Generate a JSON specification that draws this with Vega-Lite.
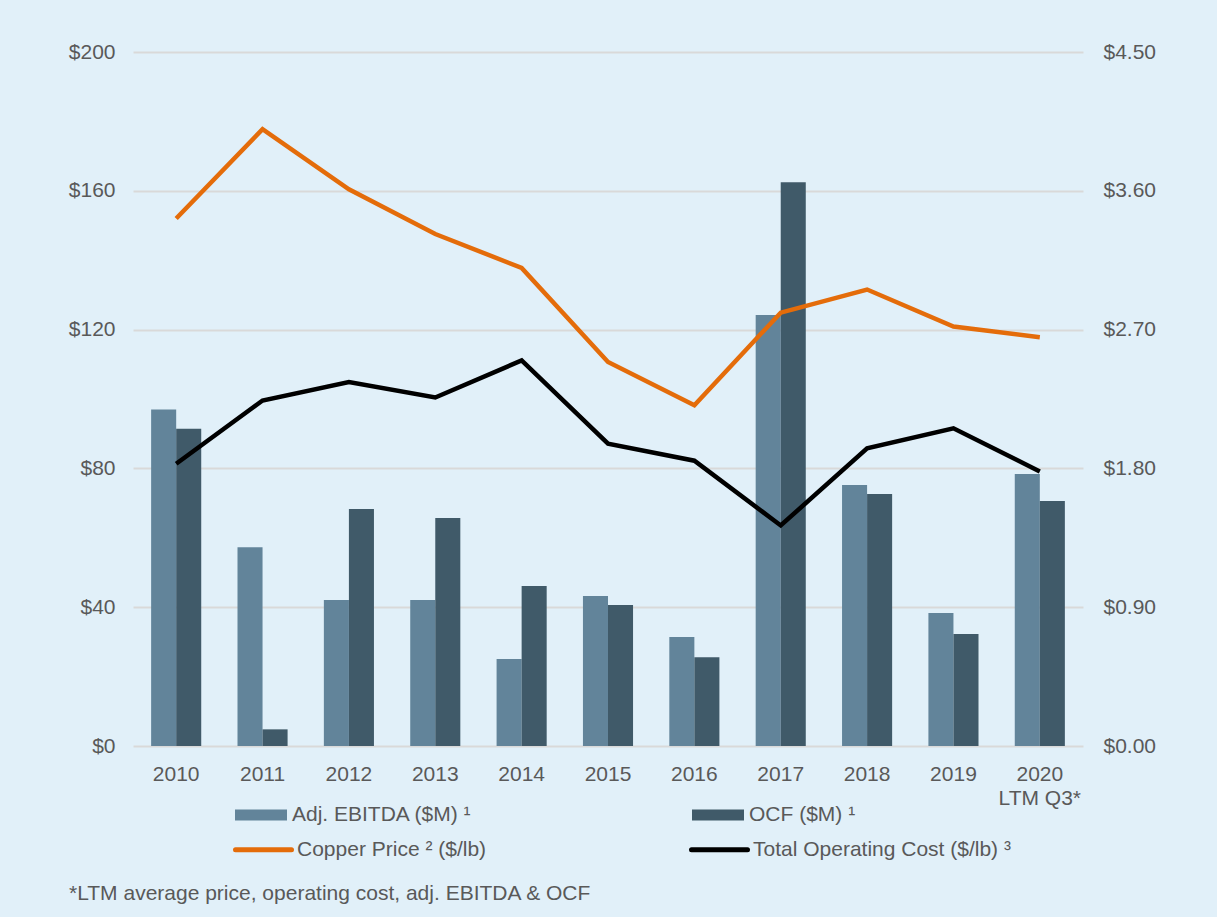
{
  "$schema": "https://vega.github.io/schema/vega-lite/v6.json",
  "width": 950,
  "height": 694,
  "autosize": {"type": "none"},
  "padding": {"left": 133, "top": 52, "right": 134, "bottom": 171},
  "background": "#E1F0F9",
  "config": {
    "view": {"stroke": null},
    "font": "Liberation Sans",
    "axis": {"labelFont": "Liberation Sans", "labelColor": "#595959", "labelFontSize": 21, "ticks": false, "domain": false, "title": null},
    "legend": {"labelFont": "Liberation Sans", "labelColor": "#595959", "labelFontSize": 21, "padding": 0, "labelLimit": 500}
  },
  "title": {
    "text": "*LTM average price, operating cost, adj. EBITDA & OCF",
    "orient": "bottom",
    "anchor": "start",
    "frame": "group",
    "dx": -64,
    "offset": 23,
    "fontSize": 21,
    "fontWeight": "normal",
    "font": "Liberation Sans",
    "color": "#595959"
  },
  "data": {
    "values": [
      {"year": "2010", "series": "Adj. EBITDA ($M) ¹", "kind": "bar", "value": 97.0},
      {"year": "2011", "series": "Adj. EBITDA ($M) ¹", "kind": "bar", "value": 57.3},
      {"year": "2012", "series": "Adj. EBITDA ($M) ¹", "kind": "bar", "value": 42.1},
      {"year": "2013", "series": "Adj. EBITDA ($M) ¹", "kind": "bar", "value": 42.1},
      {"year": "2014", "series": "Adj. EBITDA ($M) ¹", "kind": "bar", "value": 25.1},
      {"year": "2015", "series": "Adj. EBITDA ($M) ¹", "kind": "bar", "value": 43.2},
      {"year": "2016", "series": "Adj. EBITDA ($M) ¹", "kind": "bar", "value": 31.4},
      {"year": "2017", "series": "Adj. EBITDA ($M) ¹", "kind": "bar", "value": 124.2},
      {"year": "2018", "series": "Adj. EBITDA ($M) ¹", "kind": "bar", "value": 75.2},
      {"year": "2019", "series": "Adj. EBITDA ($M) ¹", "kind": "bar", "value": 38.3},
      {"year": "2020", "series": "Adj. EBITDA ($M) ¹", "kind": "bar", "value": 78.4},
      {"year": "2010", "series": "OCF ($M) ¹", "kind": "bar", "value": 91.4},
      {"year": "2011", "series": "OCF ($M) ¹", "kind": "bar", "value": 4.8},
      {"year": "2012", "series": "OCF ($M) ¹", "kind": "bar", "value": 68.3},
      {"year": "2013", "series": "OCF ($M) ¹", "kind": "bar", "value": 65.7},
      {"year": "2014", "series": "OCF ($M) ¹", "kind": "bar", "value": 46.1},
      {"year": "2015", "series": "OCF ($M) ¹", "kind": "bar", "value": 40.6},
      {"year": "2016", "series": "OCF ($M) ¹", "kind": "bar", "value": 25.6},
      {"year": "2017", "series": "OCF ($M) ¹", "kind": "bar", "value": 162.5},
      {"year": "2018", "series": "OCF ($M) ¹", "kind": "bar", "value": 72.6},
      {"year": "2019", "series": "OCF ($M) ¹", "kind": "bar", "value": 32.3},
      {"year": "2020", "series": "OCF ($M) ¹", "kind": "bar", "value": 70.6},
      {"year": "2010", "series": "Copper Price ² ($/lb)", "kind": "line", "value": 3.42},
      {"year": "2011", "series": "Copper Price ² ($/lb)", "kind": "line", "value": 4.00},
      {"year": "2012", "series": "Copper Price ² ($/lb)", "kind": "line", "value": 3.61},
      {"year": "2013", "series": "Copper Price ² ($/lb)", "kind": "line", "value": 3.32},
      {"year": "2014", "series": "Copper Price ² ($/lb)", "kind": "line", "value": 3.10},
      {"year": "2015", "series": "Copper Price ² ($/lb)", "kind": "line", "value": 2.49},
      {"year": "2016", "series": "Copper Price ² ($/lb)", "kind": "line", "value": 2.21},
      {"year": "2017", "series": "Copper Price ² ($/lb)", "kind": "line", "value": 2.81},
      {"year": "2018", "series": "Copper Price ² ($/lb)", "kind": "line", "value": 2.96},
      {"year": "2019", "series": "Copper Price ² ($/lb)", "kind": "line", "value": 2.72},
      {"year": "2020", "series": "Copper Price ² ($/lb)", "kind": "line", "value": 2.65},
      {"year": "2010", "series": "Total Operating Cost ($/lb) ³", "kind": "line", "value": 1.83},
      {"year": "2011", "series": "Total Operating Cost ($/lb) ³", "kind": "line", "value": 2.24},
      {"year": "2012", "series": "Total Operating Cost ($/lb) ³", "kind": "line", "value": 2.36},
      {"year": "2013", "series": "Total Operating Cost ($/lb) ³", "kind": "line", "value": 2.26},
      {"year": "2014", "series": "Total Operating Cost ($/lb) ³", "kind": "line", "value": 2.50},
      {"year": "2015", "series": "Total Operating Cost ($/lb) ³", "kind": "line", "value": 1.96},
      {"year": "2016", "series": "Total Operating Cost ($/lb) ³", "kind": "line", "value": 1.85},
      {"year": "2017", "series": "Total Operating Cost ($/lb) ³", "kind": "line", "value": 1.43},
      {"year": "2018", "series": "Total Operating Cost ($/lb) ³", "kind": "line", "value": 1.93},
      {"year": "2019", "series": "Total Operating Cost ($/lb) ³", "kind": "line", "value": 2.06},
      {"year": "2020", "series": "Total Operating Cost ($/lb) ³", "kind": "line", "value": 1.78}
    ]
  },
  "encoding": {
    "x": {
      "field": "year",
      "type": "nominal",
      "sort": null,
      "scale": {"paddingInner": 0.42, "paddingOuter": 0.21},
      "axis": {
        "labelAngle": 0,
        "labelPadding": 17,
        "labelLineHeight": 24,
        "labelExpr": "datum.value == '2020' ? ['2020', 'LTM Q3*'] : datum.value",
        "grid": false
      }
    }
  },
  "layer": [
    {
      "transform": [{"filter": "datum.kind == 'bar'"}],
      "mark": {"type": "bar"},
      "encoding": {
        "xOffset": {"field": "series", "type": "nominal", "scale": {"domain": ["Adj. EBITDA ($M) ¹", "OCF ($M) ¹"], "paddingInner": 0, "paddingOuter": 0}},
        "y": {
          "field": "value",
          "type": "quantitative",
          "scale": {"domain": [0, 200], "nice": false},
          "axis": {
            "orient": "left",
            "values": [0, 40, 80, 120, 160, 200],
            "labelExpr": "'$' + datum.value",
            "labelPadding": 18,
            "grid": true,
            "gridColor": "#D9D9D9",
            "gridWidth": 2
          }
        },
        "color": {
          "field": "series",
          "type": "nominal",
          "scale": {"domain": ["Adj. EBITDA ($M) ¹", "OCF ($M) ¹"], "range": ["#62849A", "#405A69"]},
          "legend": {
            "title": null,
            "orient": "none",
            "legendX": 102,
            "legendY": 737,
            "direction": "horizontal",
            "columns": 2,
            "columnPadding": 220,
            "symbolType": "M-1,-0.21H1V0.21H-1Z",
            "symbolSize": 2704,
            "symbolStrokeWidth": 0,
            "symbolOpacity": 1,
            "labelOffset": 5
          }
        }
      }
    },
    {
      "transform": [{"filter": "datum.kind == 'line'"}],
      "mark": {"type": "line", "strokeWidth": 4.5, "strokeJoin": "miter"},
      "encoding": {
        "y": {
          "field": "value",
          "type": "quantitative",
          "scale": {"domain": [0, 4.5], "nice": false},
          "axis": {
            "orient": "right",
            "values": [0, 0.9, 1.8, 2.7, 3.6, 4.5],
            "format": "$.2f",
            "labelPadding": 20,
            "grid": false
          }
        },
        "stroke": {
          "field": "series",
          "type": "nominal",
          "scale": {"domain": ["Copper Price ² ($/lb)", "Total Operating Cost ($/lb) ³"], "range": ["#E46C0A", "#000000"]},
          "legend": {
            "title": null,
            "orient": "none",
            "legendX": 100,
            "legendY": 767,
            "direction": "horizontal",
            "columns": 2,
            "columnPadding": 194,
            "symbolType": "stroke",
            "symbolSize": 3136,
            "symbolStrokeWidth": 5,
            "labelOffset": 3,
            "encode": {"symbols": {"update": {"strokeCap": {"value": "round"}}}}
          }
        }
      }
    }
  ],
  "resolve": {"scale": {"y": "independent", "color": "independent", "stroke": "independent"}, "legend": {"color": "independent", "stroke": "independent"}}
}
